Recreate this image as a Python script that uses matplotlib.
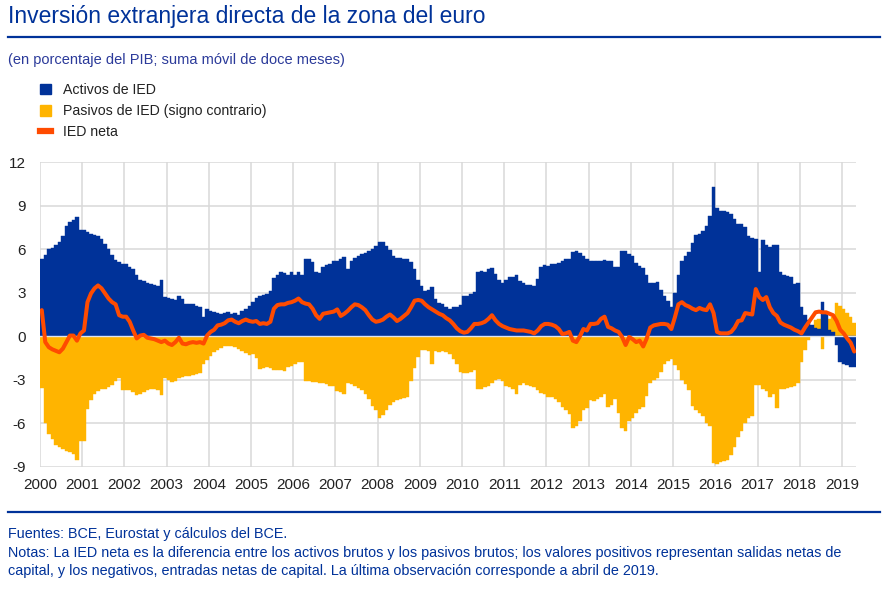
import numpy as np
import matplotlib.pyplot as plt
from matplotlib.patches import Patch
from matplotlib.lines import Line2D

# monthly values, Jan 2000 - Apr 2019 (% of GDP, 12-month sums)
activos = [
    5.3, 5.6, 6.0, 6.1, 6.3, 6.5, 6.9, 7.6, 7.9, 8.0, 8.2, 7.3,          # 2000
    7.3, 7.15, 7.05, 7.0, 6.9, 6.7, 6.35, 6.0, 5.6, 5.25, 5.1, 5.0,      # 2001
    4.95, 4.8, 4.6, 4.2, 3.85, 3.8, 3.7, 3.6, 3.55, 3.45, 3.9, 2.7,      # 2002
    2.65, 2.55, 2.5, 2.75, 2.6, 2.25, 2.2, 2.2, 2.1, 2.05, 1.35, 1.85,   # 2003
    1.75, 1.65, 1.6, 1.55, 1.6, 1.65, 1.55, 1.6, 1.5, 1.75, 1.9, 2.1,    # 2004
    2.35, 2.65, 2.75, 2.85, 2.9, 3.15, 4.0, 4.25, 4.4, 4.35, 4.2, 4.45,  # 2005
    4.2, 4.45, 4.2, 5.3, 5.3, 5.1, 4.45, 4.35, 4.75, 4.9, 5.0, 5.15,     # 2006
    5.2, 5.3, 5.45, 4.6, 5.2, 5.4, 5.5, 5.65, 5.75, 5.9, 6.0, 6.2,       # 2007
    6.5, 6.5, 6.25, 5.95, 5.5, 5.4, 5.4, 5.35, 5.3, 5.1, 4.6, 3.85,      # 2008
    3.45, 3.1, 3.2, 3.4, 2.6, 2.3, 2.2, 2.0, 1.9, 2.0, 2.05, 2.15,       # 2009
    2.75, 2.8, 2.9, 3.05, 4.45, 4.5, 4.45, 4.65, 4.7, 4.3, 3.9, 3.7,     # 2010
    3.85, 4.05, 4.1, 4.25, 3.8, 3.65, 3.55, 3.5, 3.45, 3.95, 4.75, 4.9,  # 2011
    4.85, 4.95, 4.95, 5.05, 5.15, 5.3, 5.35, 5.8, 5.85, 5.75, 5.5, 5.35, # 2012
    5.2, 5.2, 5.2, 5.2, 5.25, 5.2, 5.15, 4.75, 4.75, 5.9, 5.85, 5.7,     # 2013
    5.5, 5.05, 4.85, 4.7, 4.2, 3.7, 3.65, 3.75, 3.2, 2.8, 2.4, 2.05,     # 2014
    3.0, 4.25, 5.2, 5.55, 5.8, 6.4, 7.0, 7.05, 7.25, 7.6, 8.3, 10.3,     # 2015
    8.8, 8.65, 8.6, 8.55, 8.4, 8.1, 7.75, 7.75, 7.5, 6.9, 6.8, 6.7,      # 2016
    4.4, 6.6, 6.3, 6.15, 6.3, 6.3, 4.4, 4.2, 4.15, 4.05, 3.6, 3.7,       # 2017
    2.0, 1.5, 1.1, 0.75, 0.6, 0.5, 2.35, 1.6, 0.4, 0.3, -0.6, -1.8,      # 2018
    -1.9, -2.0, -2.1, -2.1,                                              # 2019
]

pasivos = [
    -3.55, -5.95, -6.75, -7.1, -7.5, -7.6, -7.75, -7.9, -8.0, -8.1, -8.5, -7.2,   # 2000
    -7.2, -5.0, -4.4, -4.0, -3.75, -3.65, -3.6, -3.5, -3.35, -3.1, -2.85, -3.7,   # 2001
    -3.7, -3.7, -3.85, -4.05, -3.95, -3.85, -3.7, -3.65, -3.65, -3.7, -4.05, -2.9, # 2002
    -3.0, -3.15, -3.05, -2.9, -2.8, -2.75, -2.7, -2.65, -2.6, -2.5, -1.9, -1.6,   # 2003
    -1.35, -1.1, -0.95, -0.8, -0.7, -0.7, -0.7, -0.75, -0.85, -1.0, -1.15, -1.3,  # 2004
    -1.25, -1.5, -2.25, -2.15, -2.1, -2.15, -2.3, -2.35, -2.35, -2.4, -2.1, -2.05, # 2005
    -1.9, -1.8, -1.75, -3.05, -3.1, -3.15, -3.15, -3.25, -3.25, -3.3, -3.4, -3.4, # 2006
    -3.8, -3.85, -3.95, -3.25, -3.3, -3.4, -3.55, -3.7, -3.95, -4.3, -4.8, -5.1,  # 2007
    -5.6, -5.4, -5.05, -4.75, -4.5, -4.4, -4.35, -4.25, -4.15, -3.1, -2.2, -1.4,  # 2008
    -0.95, -0.95, -1.0, -1.9, -1.0, -1.05, -1.0, -1.1, -1.2, -1.55, -1.9, -2.45,  # 2009
    -2.55, -2.55, -2.45, -2.3, -3.6, -3.6, -3.5, -3.4, -3.25, -3.0, -2.95, -3.05, # 2010
    -3.4, -3.5, -3.65, -4.0, -3.35, -3.25, -3.35, -3.4, -3.5, -3.7, -3.9, -4.0,   # 2011
    -4.15, -4.2, -4.35, -4.5, -4.9, -5.1, -5.35, -6.3, -6.2, -5.8, -5.05, -4.95,  # 2012
    -4.4, -4.45, -4.35, -4.2, -4.0, -4.85, -4.7, -4.3, -5.3, -6.3, -6.5, -5.85,   # 2013
    -5.6, -5.3, -5.0, -4.9, -4.1, -3.2, -3.0, -2.85, -2.45, -1.9, -1.7, -1.55,    # 2014
    -2.0, -2.3, -3.0, -3.3, -3.7, -4.8, -5.1, -5.25, -5.5, -5.95, -6.2, -8.7,     # 2015
    -8.8, -8.65, -8.6, -8.5, -8.2, -7.6, -6.9, -6.55, -6.0, -5.6, -5.5, -3.35,    # 2016
    -3.35, -3.6, -3.8, -4.15, -4.0, -4.95, -3.65, -3.65, -3.55, -3.5, -3.4, -3.2, # 2017
    -1.75, -0.95, -0.25, 0.45, 1.1, 1.2, -0.85, 0.1, 1.2, 1.3, 2.3, 2.1,          # 2018
    1.9, 1.6, 1.3, 0.9,                                                           # 2019
]

neta = [
    1.8, -0.4, -0.75, -0.9, -1.0, -1.1, -0.85, -0.4, 0.05, 0.05, -0.3, 0.2,       # 2000
    0.4, 2.35, 2.95, 3.3, 3.5, 3.3, 2.95, 2.6, 2.35, 2.2, 1.45, 1.35,             # 2001
    1.35, 1.0, 0.4, -0.15, 0.05, 0.1, -0.1, -0.15, -0.2, -0.3, -0.4, -0.3,        # 2002
    -0.5, -0.6, -0.4, -0.1, -0.5, -0.55, -0.45, -0.4, -0.45, -0.4, -0.5, 0.05,    # 2003
    0.3, 0.45, 0.75, 0.8, 0.9, 1.1, 1.15, 1.0, 0.9, 1.05, 1.15, 1.05,             # 2004
    1.0, 1.05, 0.85, 0.9, 0.85, 1.0, 1.9, 2.15, 2.2, 2.2, 2.3, 2.35,              # 2005
    2.45, 2.6, 2.35, 2.25, 2.2, 1.9, 1.45, 1.2, 1.55, 1.6, 1.65, 1.7,             # 2006
    1.85, 1.4, 1.55, 1.75, 2.0, 2.2, 2.15, 2.0, 1.8, 1.45, 1.15, 1.0,             # 2007
    1.05, 1.15, 1.35, 1.5, 1.3, 1.05, 1.2, 1.4, 1.6, 2.0, 2.45, 2.5,              # 2008
    2.45, 2.2, 2.0, 1.85, 1.7, 1.55, 1.45, 1.25, 1.1, 0.85, 0.55, 0.35,           # 2009
    0.25, 0.3, 0.55, 0.85, 0.85, 0.9, 1.0, 1.2, 1.45, 1.1, 0.85, 0.7,             # 2010
    0.6, 0.5, 0.45, 0.4, 0.4, 0.4, 0.35, 0.3, 0.2, 0.4, 0.7, 0.85,                # 2011
    0.85, 0.8, 0.7, 0.5, 0.15, 0.2, 0.3, -0.3, -0.4, 0.0, 0.5, 0.4,               # 2012
    0.85, 0.85, 0.9, 1.2, 1.35, 0.65, 0.55, 0.4, 0.3, -0.05, -0.6, -0.05,         # 2013
    -0.2, -0.4, -0.3, -0.7, -0.15, 0.6, 0.75, 0.8, 0.85, 0.85, 0.8, 0.5,          # 2014
    1.3, 2.2, 2.35, 2.15, 2.05, 1.9, 1.8, 1.95, 1.85, 1.8, 2.2, 1.6,              # 2015
    0.3, 0.2, 0.2, 0.2, 0.3, 0.6, 1.05, 1.1, 1.6, 1.55, 1.5, 3.25,                # 2016
    2.7, 2.5, 2.7, 2.0, 1.6, 1.4, 0.95, 0.8, 0.7, 0.6, 0.45, 0.35,                # 2017
    0.2, 0.6, 0.95, 1.3, 1.65, 1.7, 1.65, 1.65, 1.55, 1.45, 1.05, 0.45,           # 2018
    0.2, -0.15, -0.45, -1.05,                                                     # 2019
]

years = list(range(2000, 2020))
yticks = [-9, -6, -3, 0, 3, 6, 9, 12]

azul = '#003299'
amarillo = '#ffb400'
naranja = '#ff4b00'
texto = '#222222'

plt.rcParams['font.family'] = ['Liberation Sans', 'DejaVu Sans']
plt.rcParams['axes.unicode_minus'] = False

fig = plt.figure(figsize=(8.86, 5.9), dpi=100)
ax = fig.add_axes([40 / 886, 123 / 590, 816 / 886, 305 / 590])

x = 2000 + np.arange(len(activos)) / 12
ax.bar(x, pasivos, width=1 / 12, align='edge', color=amarillo,
       edgecolor=amarillo, linewidth=0.3, zorder=2)
ax.bar(x, activos, width=1 / 12, align='edge', color=azul,
       edgecolor=azul, linewidth=0.3, zorder=2.5)
ax.axhline(0, color='#dfe4ee', lw=1.0, zorder=3)
ax.plot(x + 1 / 24, neta, color=naranja, lw=2.9, zorder=4,
        solid_joinstyle='round', solid_capstyle='round')

ax.set_xlim(2000, 2000 + len(activos) / 12)
ax.set_ylim(-9, 12)
ax.set_xticks(years)
ax.set_xticklabels([str(a) for a in years])
ax.set_yticks(yticks)
ax.grid(color='#d9d9d9', lw=1.1)
ax.set_axisbelow(True)
for s in ax.spines.values():
    s.set_visible(False)
ax.tick_params(length=0, labelsize=11, colors=texto)
ax.tick_params(axis='x', pad=8)
ax.tick_params(axis='y', pad=10)

# header
fig.text(8 / 886, 1 - 16 / 590, 'Inversión extranjera directa de la zona del euro',
         color=azul, fontsize=16.5, va='center', ha='left')
fig.add_artist(Line2D([8 / 886, 880 / 886], [1 - 37 / 590, 1 - 37 / 590],
                      color=azul, lw=1.6))
fig.text(8 / 886, 1 - 60 / 590, '(en porcentaje del PIB; suma móvil de doce meses)',
         color='#2b3a9a', fontsize=10.5, va='center', ha='left')

handles = [Patch(color=azul), Patch(color=amarillo),
           Line2D([0], [0], color=naranja, lw=4.5)]
labels = ['Activos de IED', 'Pasivos de IED (signo contrario)', 'IED neta']
fig.legend(handles, labels, loc='upper left',
           bbox_to_anchor=(40 / 886, 1 - 83 / 590), bbox_transform=fig.transFigure,
           frameon=False, fontsize=10.2, labelcolor=texto,
           handlelength=0.8, handleheight=0.8, handletextpad=0.85,
           labelspacing=0.5, borderpad=0, borderaxespad=0)

# footer
fig.add_artist(Line2D([8 / 886, 880 / 886], [1 - 512 / 590, 1 - 512 / 590],
                      color=azul, lw=1.6))
notas = ['Fuentes: BCE, Eurostat y cálculos del BCE.',
         'Notas: La IED neta es la diferencia entre los activos brutos y los pasivos brutos; '
         'los valores positivos representan salidas netas de',
         'capital, y los negativos, entradas netas de capital. La última observación '
         'corresponde a abril de 2019.']
for i, t in enumerate(notas):
    fig.text(8 / 886, 1 - (534 + 18.5 * i) / 590, t, color=azul,
             fontsize=10.4, va='center', ha='left')

fig.savefig('out.png', dpi=100)
